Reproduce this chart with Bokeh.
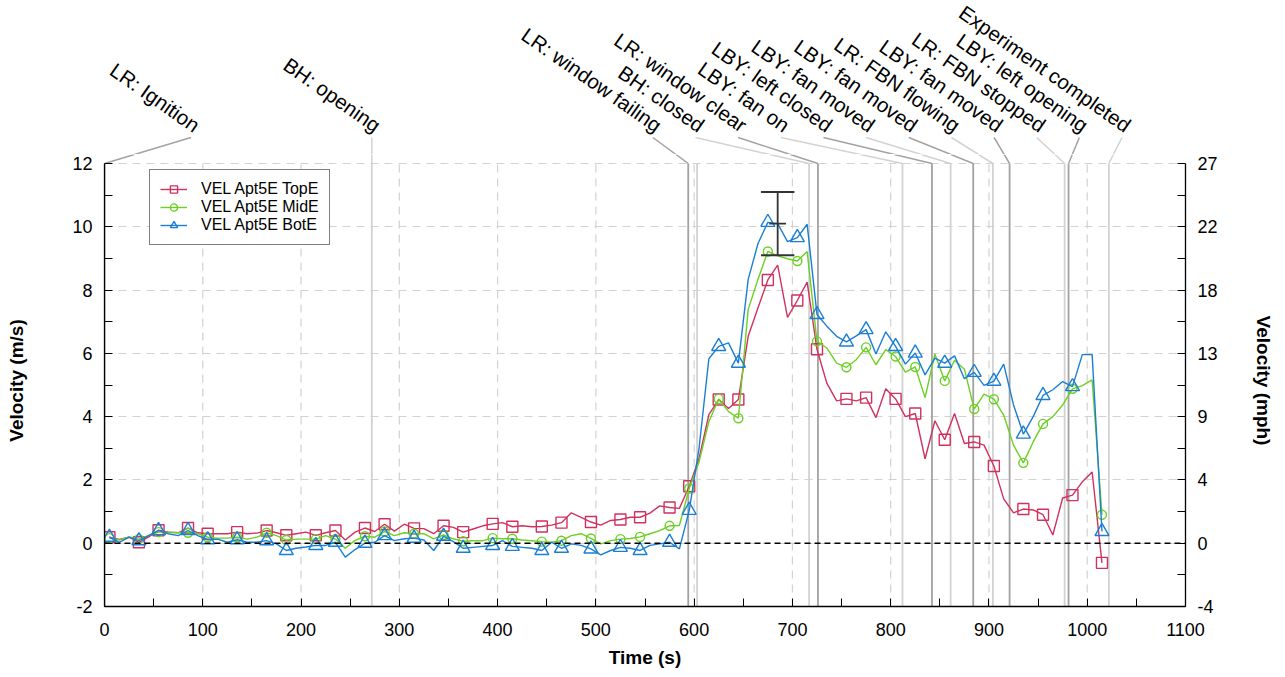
import numpy as np
from bokeh.plotting import figure
from bokeh.models import (LinearAxis, FixedTicker, Span, Legend, LegendItem,
                          Range1d)
from bokeh.layouts import column
from bokeh.embed import file_html
from bokeh.resources import INLINE
from bokeh.core.properties import value

# ---------------- data ----------------
time_s = list(range(5, 1016, 10))

vel_top = [0.19, 0.12, 0.19, 0.03, 0.20, 0.41, 0.35, 0.33, 0.48, 0.33,
           0.30, 0.30, 0.30, 0.35, 0.30, 0.32, 0.40, 0.33, 0.25, 0.30,
           0.35, 0.25, 0.33, 0.40, 0.10, 0.35, 0.48, 0.37, 0.60, 0.38,
           0.60, 0.47, 0.46, 0.30, 0.55, 0.50, 0.35, 0.45, 0.55, 0.61,
           0.65, 0.52, 0.55, 0.52, 0.53, 0.57, 0.65, 0.96, 0.82, 0.67,
           0.57, 0.72, 0.75, 0.82, 0.82, 0.95, 1.18, 1.13, 1.10, 1.80,
           2.68, 4.06, 4.54, 4.26, 4.54, 6.54, 7.44, 8.32, 8.79, 7.14,
           7.67, 8.25, 6.13, 5.06, 4.50, 4.56, 4.50, 4.60, 3.97, 4.88,
           4.56, 4.00, 4.10, 2.67, 3.87, 3.27, 4.10, 3.15, 3.20, 3.10,
           2.44, 1.40, 0.96, 1.08, 1.05, 0.90, 0.26, 1.43, 1.52, 1.94,
           2.25, -0.62]

vel_mid = [0.16, 0.10, 0.20, 0.13, 0.25, 0.35, 0.35, 0.33, 0.33, 0.30,
           0.19, 0.16, 0.16, 0.19, 0.13, 0.19, 0.33, 0.24, 0.10, 0.13,
           0.13, 0.13, 0.24, 0.13, -0.16, 0.09, 0.22, 0.19, 0.37, 0.24,
           0.33, 0.30, 0.30, 0.14, 0.26, 0.14, 0.06, 0.08, 0.08, 0.16,
           0.14, 0.14, 0.10, 0.08, 0.05, 0.03, 0.08, 0.24, 0.30, 0.15,
           -0.02, 0.08, 0.13, 0.15, 0.20, 0.30, 0.40, 0.55, 0.56, 1.73,
           2.57, 3.84, 4.56, 4.16, 3.95, 7.39, 8.34, 9.22, 9.08, 8.99,
           8.92, 9.22, 6.38, 6.17, 5.69, 5.56, 5.80, 6.19, 5.64, 6.12,
           5.90, 5.41, 5.57, 4.60, 5.98, 5.13, 5.78, 5.50, 4.24, 4.71,
           4.55, 4.05, 3.10, 2.54, 3.20, 3.77, 4.00, 4.37, 4.88, 4.98,
           5.16, 0.90]

vel_bot = [0.19, 0.03, 0.19, 0.08, 0.24, 0.40, 0.30, 0.24, 0.40, 0.24,
           0.11, 0.13, 0.03, 0.11, 0.03, 0.03, 0.08, -0.02, -0.23, -0.16,
           -0.12, -0.07, -0.07, 0.03, -0.44, -0.20, 0.00, 0.03, 0.24, 0.08,
           0.14, 0.16, 0.10, -0.23, 0.22, 0.05, -0.16, -0.13, -0.10, -0.07,
           0.08, -0.10, -0.13, -0.16, -0.23, 0.03, -0.16, -0.02, -0.07, -0.18,
           -0.37, -0.23, -0.13, -0.16, -0.23, -0.07, -0.02, 0.03, -0.18, 1.04,
           3.00, 5.83, 6.22, 6.33, 5.69, 8.34, 9.47, 10.14, 10.10, 9.53,
           9.66, 10.08, 7.23, 6.86, 6.54, 6.36, 6.55, 6.75, 5.98, 6.68,
           6.22, 5.66, 6.01, 5.32, 5.85, 5.69, 5.92, 5.20, 5.40, 4.99,
           5.12, 5.66, 4.37, 3.45, 4.00, 4.67, 4.85, 5.11, 4.95, 5.96,
           5.96, 0.37]

marker_times = [5, 35, 55, 85, 105, 135, 165, 185, 215, 235, 265, 285, 315,
                345, 365, 395, 415, 445, 465, 495, 525, 545, 575, 595, 625,
                645, 675, 705, 725, 755, 775, 805, 825, 855, 885, 905, 935,
                955, 985, 1015]

series_names = ["VEL Apt5E TopE", "VEL Apt5E MidE", "VEL Apt5E BotE"]

# uncertainty bar
err_t = [685]
err_v = [10.1]
err_d = [1.0]

# events (label "" = unlabelled line)
event_times = [0, 272, 594, 603, 717, 726, 812, 842, 861, 884, 904, 921,
               977, 981, 1022]
event_labels = ["LR: Ignition", "BH: opening", "LR: window failing", "",
                "BH: closed", "LR: window clear", "LBY: fan on",
                "LBY: left closed", "LBY: fan moved", "LBY: fan moved",
                "LR: FBN flowing", "LBY: fan moved", "LR: FBN stopped",
                "LBY: left opening", "Experiment completed"]

x_ticks = list(range(0, 1101, 100))
y_ticks = [-2, 0, 2, 4, 6, 8, 10, 12]
ms_labels = ["-2", "0", "2", "4", "6", "8", "10", "12"]
mph_labels = ["-4", "0", "4", "9", "13", "18", "22", "27"]

assert len(vel_top) == len(time_s) == len(vel_mid) == len(vel_bot)

# ---------------- styling ----------------
FONT = "Liberation Sans"
C_TOP = "#D0325F"
C_MID = "#6CD024"
C_BOT = "#1A7FD4"
EV_DARK, EV_LIGHT = "#a2a2a2", "#d2d2d2"
LEFT_B, RIGHT_B = 104, 95
FRAME_W = 1081
PLOT_PX = 443          # pixel height of the -2..12 span
EXTRA_PX = 9           # headroom above 12 inside main frame
TOP_H = 154            # annotation strip height
LEAD_H = 26            # leader height in px above y=12
Y_LO, Y_HI = -2, 12
y_top = Y_HI + EXTRA_PX * (Y_HI - Y_LO) / PLOT_PX

# ---------------- main figure ----------------
p = figure(frame_width=FRAME_W, frame_height=PLOT_PX + EXTRA_PX,
           output_backend="svg", toolbar_location=None,
           x_range=Range1d(0, 1100), y_range=Range1d(Y_LO, y_top),
           min_border_left=LEFT_B, min_border_right=RIGHT_B,
           min_border_top=0, min_border_bottom=68)
p.outline_line_color = None
p.background_fill_color = "white"
p.border_fill_color = "white"

GRID_C, GRID_DASH = "#d2d2d2", "8 6"
p.xgrid.visible = False
yg = p.ygrid[0]
yg.grid_line_color = GRID_C
yg.grid_line_dash = GRID_DASH
yg.grid_line_width = 1.2
yg.ticker = FixedTicker(ticks=y_ticks)
p.segment(x0=x_ticks, y0=[Y_LO] * len(x_ticks), x1=x_ticks,
          y1=[Y_HI] * len(x_ticks), line_color=GRID_C, line_dash=GRID_DASH,
          line_width=1.2)


def style_axis(ax):
    ax.axis_line_color = "black"
    ax.axis_line_width = 1.3
    ax.major_tick_in = 8
    ax.major_tick_out = 0
    ax.minor_tick_in = 8
    ax.minor_tick_out = 0
    ax.major_tick_line_color = "black"
    ax.minor_tick_line_color = "black"
    ax.major_label_text_font = FONT
    ax.major_label_text_font_size = "18px"
    ax.major_label_text_color = "black"
    ax.axis_label_text_font = FONT
    ax.axis_label_text_font_size = "19px"
    ax.axis_label_text_font_style = "bold"
    ax.axis_label_text_color = "black"


xa = p.xaxis[0]
xa.ticker = FixedTicker(ticks=x_ticks,
                        minor_ticks=[t + 50 for t in x_ticks[:-1]])
xa.axis_label = "Time (s)"
style_axis(xa)
xa.major_label_standoff = 16
xa.axis_label_standoff = 8

yminor = [t + 1 for t in y_ticks[:-1]]
ya = p.yaxis[0]
ya.ticker = FixedTicker(ticks=y_ticks, minor_ticks=yminor)
ya.axis_label = "Velocity (m/s)"
ya.bounds = (Y_LO, Y_HI)
ya.major_label_overrides = {t: s for t, s in zip(y_ticks, ms_labels)}
style_axis(ya)
ya.major_label_standoff = 12
ya.axis_label_standoff = 42

ra = LinearAxis(ticker=FixedTicker(ticks=y_ticks, minor_ticks=yminor),
                axis_label="Velocity (mph)", bounds=(Y_LO, Y_HI),
                major_label_overrides={t: s for t, s in zip(y_ticks, mph_labels)})
style_axis(ra)
ra.major_label_standoff = 12
ra.axis_label_standoff = 32
p.add_layout(ra, "right")

# colours: alternate over labelled events; unlabelled lines light
ev_colors = []
j = 0
for lab in event_labels:
    if lab == "":
        ev_colors.append(EV_LIGHT)
    else:
        ev_colors.append(EV_DARK if j % 2 == 0 else EV_LIGHT)
        j += 1

n_ev = len(event_times)
p.segment(x0=event_times, y0=[Y_LO] * n_ev, x1=event_times, y1=[Y_HI] * n_ev,
          line_color=ev_colors, line_width=1.8)

# zero line
p.add_layout(Span(location=0, dimension="width", line_color="black",
                  line_dash="6 4", line_width=1.5))

# series
t_arr = np.array(time_s)
mask = np.isin(t_arr, marker_times)
items = []
specs = [(vel_top, C_TOP, "square", 11),
         (vel_mid, C_MID, "circle", 9),
         (vel_bot, C_BOT, "triangle", 14)]
for (vals, col, mk, sz), name in zip(specs, series_names):
    v = np.array(vals)
    r1 = p.line(t_arr, v, line_color=col, line_width=1.4)
    r2 = p.scatter(t_arr[mask], v[mask], marker=mk, size=sz,
                   line_color=col, fill_color=None, line_width=1.4)
    items.append(LegendItem(label=name, renderers=[r1, r2]))

# uncertainty bar
et = np.array(err_t, dtype=float)
ev = np.array(err_v)
ed = np.array(err_d)
cap = 17
EB = "#333333"
p.segment(et, ev - ed, et, ev + ed, line_color=EB, line_width=1.8)
p.segment(et - cap, ev + ed, et + cap, ev + ed, line_color=EB, line_width=1.8)
p.segment(et - cap, ev - ed, et + cap, ev - ed, line_color=EB, line_width=1.8)
p.segment(et - cap / 2, ev, et + cap / 2, ev, line_color=EB, line_width=1.8)

legend = Legend(items=items, location=(45, 361))
legend.border_line_color = "black"
legend.border_line_width = 1
legend.background_fill_alpha = 1
legend.label_text_font = FONT
legend.label_text_font_size = "16px"
legend.label_text_color = "black"
legend.glyph_width = 27
legend.glyph_height = 18
legend.label_height = 18
legend.label_standoff = 14
legend.padding = 10
legend.spacing = 0
legend.margin = 0
p.add_layout(legend, "center")

# ---------------- annotation strip ----------------
top = figure(frame_width=FRAME_W, frame_height=TOP_H, output_backend="svg",
             toolbar_location=None, x_range=p.x_range,
             y_range=Range1d(0, TOP_H), x_axis_type=None, y_axis_type=None,
             min_border_left=LEFT_B, min_border_right=RIGHT_B,
             min_border_top=0, min_border_bottom=0)
top.outline_line_color = None
top.xgrid.visible = False
top.ygrid.visible = False

# label anchor layout (evenly spaced in the crowded region)
lab_x = []
cluster_start, gap = 558.0, 43.4
k = 0
for t, lab in zip(event_times, event_labels):
    if t == 0:
        lab_x.append(t + 88)
    elif t < 500:
        lab_x.append(t)
    elif lab == "":
        lab_x.append(None)
    else:
        lab_x.append(cluster_start + k * gap)
        k += 1

frac = EXTRA_PX / LEAD_H
a_x0, a_x1, a_c, b_x0, b_x1, tx, tl = [], [], [], [], [], [], []
for t, lab, lx, c in zip(event_times, event_labels, lab_x, ev_colors):
    if lx is None:
        continue
    xm = t + (lx - t) * frac
    a_x0.append(lx); a_x1.append(xm); a_c.append(c)
    b_x0.append(xm); b_x1.append(t)
    tx.append(lx); tl.append(lab)

n = len(a_x0)
top.segment(x0=a_x0, y0=[LEAD_H - EXTRA_PX] * n, x1=a_x1, y1=[0] * n,
            line_color=a_c, line_width=1.5)
p.segment(x0=b_x0, y0=[y_top] * n, x1=b_x1, y1=[Y_HI] * n,
          line_color=a_c, line_width=1.5)
top.text(x=tx, y=[LEAD_H - EXTRA_PX + 1] * n, text=tl, angle=-35,
         angle_units="deg", text_align="right", text_baseline="bottom",
         text_font=value(FONT), text_font_size="20.5px", text_color="black")

layout = column(top, p, spacing=0)
open("out.html", "w").write(file_html(layout, INLINE))
